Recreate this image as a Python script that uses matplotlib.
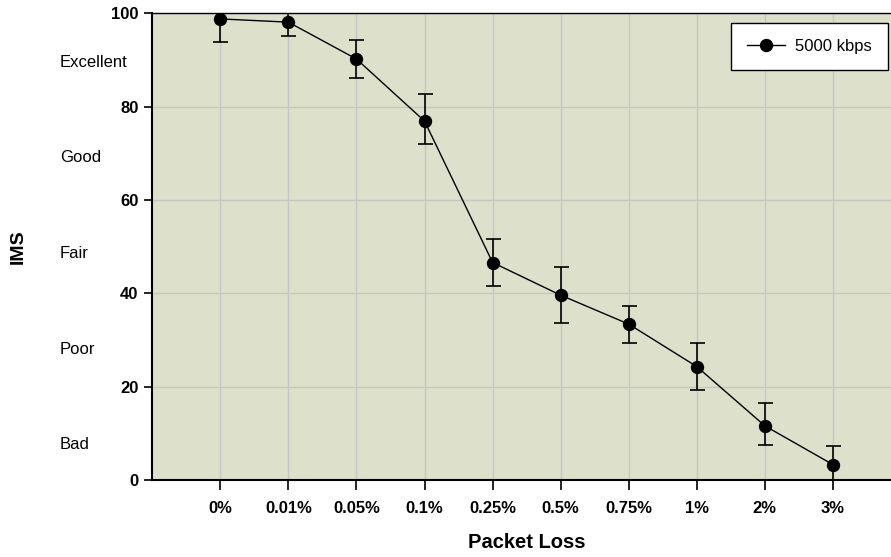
import matplotlib
matplotlib.use("Agg")
import matplotlib.pyplot as plt
from matplotlib.lines import Line2D
import matplotlib.transforms as mtransforms
import numpy as np

plt.rcParams['font.family'] = ['Liberation Sans', 'DejaVu Sans']

# Packet loss levels and mean IMS scores at 5000 kbps
loss_labels = ["0%", "0.01%", "0.05%", "0.1%", "0.25%", "0.5%", "0.75%", "1%", "2%", "3%"]
ims_mean = [98.8, 98.1, 90.2, 76.9, 46.6, 39.6, 33.4, 24.3, 11.6, 3.3]
err_low = [5.0, 3.0, 4.0, 5.0, 5.0, 6.0, 4.0, 5.0, 4.0, 4.0]
err_high = [5.0, 3.0, 4.0, 5.9, 5.0, 6.0, 3.9, 5.0, 5.0, 4.0]
series_name = "5000 kbps"

# Quality bands shown beside the score axis
band_labels = ["Excellent", "Good", "Fair", "Poor", "Bad"]
band_pos = [89.4, 69.0, 48.5, 28.0, 7.6]

fig = plt.figure(figsize=(8.91, 5.57), dpi=100)
ax = fig.add_axes([152.3 / 891, 1 - 480 / 557, (901 - 152.3) / 891, (480 - 13.3) / 557])
ax.set_facecolor("#dde0cb")

x = np.arange(len(loss_labels))
ax.errorbar(x, ims_mean, yerr=[err_low, err_high], fmt='-o', color='black',
            linewidth=1.0, markersize=8.6, elinewidth=1.2, capsize=5.4,
            capthick=1.2, ecolor='black', zorder=3)

ax.set_xlim(-1, 10)
ax.set_ylim(0, 100)
ax.set_yticks([0, 20, 40, 60, 80, 100])
ax.set_xticks(x)
ax.set_xticklabels(loss_labels)
ax.grid(True, color="#c6c6c6", linewidth=1.0)
ax.set_axisbelow(True)

for lbl in ax.get_xticklabels() + ax.get_yticklabels():
    lbl.set_fontweight('bold')
    lbl.set_fontsize(12)
ax.tick_params(axis='x', direction='out', length=7, width=1.2, pad=8)
ax.tick_params(axis='y', direction='out', length=6, width=1.2, pad=4)

ax.spines['right'].set_visible(False)
ax.spines['left'].set_linewidth(1.5)
ax.spines['bottom'].set_linewidth(1.5)
ax.spines['top'].set_linewidth(1.0)

band_tf = mtransforms.blended_transform_factory(fig.transFigure, ax.transData)
for name, pos in zip(band_labels, band_pos):
    ax.text(60 / 891, pos, name, transform=band_tf, ha='left', va='center', fontsize=12)

fig.text(18 / 891, 1 - 246.5 / 557, "IMS", rotation=90, ha='center', va='center',
         fontsize=14, fontweight='bold')
fig.text(526.5 / 891, 1 - 543 / 557, "Packet Loss", ha='center', va='center',
         fontsize=14.5, fontweight='bold')

handle = Line2D([], [], color='black', linewidth=1.0, marker='o', markersize=8.6)
leg = ax.legend([handle], [series_name], loc='upper right',
                bbox_to_anchor=((888 - 152.3) / (901 - 152.3), (480 - 23) / (480 - 13.3)),
                fancybox=False, framealpha=1, edgecolor='black', fontsize=12,
                borderpad=0.95, handlelength=2.3, handletextpad=0.6, borderaxespad=0)
leg.get_frame().set_linewidth(1.0)

fig.savefig("out.png", dpi=100)
